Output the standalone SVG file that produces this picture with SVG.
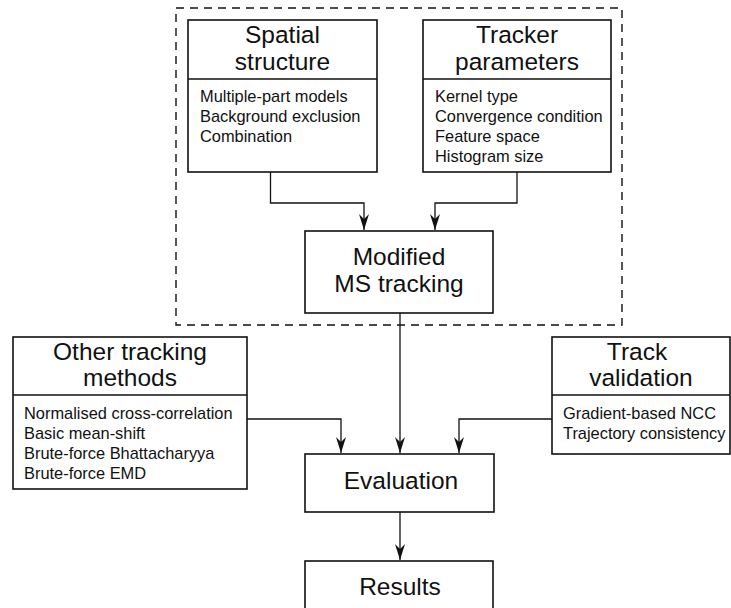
<svg xmlns="http://www.w3.org/2000/svg" width="731" height="608" viewBox="0 0 731 608">
<defs>
<style>
.box{fill:#fff;stroke:#111;stroke-width:1.6}
.div{stroke:#111;stroke-width:1.4}
.title{font-family:"Liberation Sans",Arial,sans-serif;font-size:24.5px;fill:#111;text-anchor:middle}
.body{font-family:"Liberation Sans",Arial,sans-serif;font-size:16.4px;fill:#111}
.conn{fill:none;stroke:#111;stroke-width:1.3}
.dash{fill:none;stroke:#111;stroke-width:1.4;stroke-dasharray:8,6}
</style>
<marker id="arr" markerUnits="userSpaceOnUse" markerWidth="18" markerHeight="12" refX="16" refY="6" orient="auto" viewBox="0 0 18 12">
<path d="M16,6 L0,1 L5,6 L0,11 Z" fill="#111"/>
</marker>
</defs>
<rect width="731" height="608" fill="#fff"/>
<rect class="dash" x="176" y="8" width="446" height="317"/>
<g id="spatial">
<rect class="box" x="188" y="20" width="189" height="152"/>
<line class="div" x1="188" y1="79" x2="377" y2="79"/>
<text class="title" x="282.5" y="43">Spatial</text>
<text class="title" x="282.5" y="70">structure</text>
<text class="body" x="200" y="102">Multiple-part models</text>
<text class="body" x="200" y="122">Background exclusion</text>
<text class="body" x="200" y="142">Combination</text>
</g>
<g id="tracker">
<rect class="box" x="423" y="20" width="188" height="152"/>
<line class="div" x1="423" y1="79" x2="611" y2="79"/>
<text class="title" x="517" y="43">Tracker</text>
<text class="title" x="517" y="70">parameters</text>
<text class="body" x="435" y="102">Kernel type</text>
<text class="body" x="435" y="122">Convergence condition</text>
<text class="body" x="435" y="142">Feature space</text>
<text class="body" x="435" y="162">Histogram size</text>
</g>
<g id="modified">
<rect class="box" x="305" y="231" width="188" height="82"/>
<text class="title" x="399" y="265">Modified</text>
<text class="title" x="399" y="292">MS tracking</text>
</g>
<g id="other">
<rect class="box" x="13" y="337" width="234" height="152"/>
<line class="div" x1="13" y1="395" x2="247" y2="395"/>
<text class="title" x="130" y="360">Other tracking</text>
<text class="title" x="130" y="386">methods</text>
<text class="body" x="24" y="419">Normalised cross-correlation</text>
<text class="body" x="24" y="439">Basic mean-shift</text>
<text class="body" x="24" y="459">Brute-force Bhattacharyya</text>
<text class="body" x="24" y="479">Brute-force EMD</text>
</g>
<g id="validation">
<rect class="box" x="552" y="337" width="178" height="117"/>
<line class="div" x1="552" y1="395" x2="730" y2="395"/>
<text class="title" x="637" y="360">Track</text>
<text class="title" x="641" y="386">validation</text>
<text class="body" x="563" y="419">Gradient-based NCC</text>
<text class="body" x="563" y="439">Trajectory consistency</text>
</g>
<g id="evaluation">
<rect class="box" x="305" y="454" width="189" height="58"/>
<text class="title" x="401" y="489">Evaluation</text>
</g>
<g id="results">
<rect class="box" x="305" y="561" width="188" height="60"/>
<text class="title" x="400" y="595">Results</text>
</g>
<g id="connectors">
<path class="conn" d="M270.5,172 V203 H364 V230" marker-end="url(#arr)"/>
<path class="conn" d="M517,172 V203 H435 V230" marker-end="url(#arr)"/>
<path class="conn" d="M400,313 V453" marker-end="url(#arr)"/>
<path class="conn" d="M247,419 H341 V453" marker-end="url(#arr)"/>
<path class="conn" d="M552,419 H459 V453" marker-end="url(#arr)"/>
<path class="conn" d="M400,512 V560" marker-end="url(#arr)"/>
</g>
</svg>
